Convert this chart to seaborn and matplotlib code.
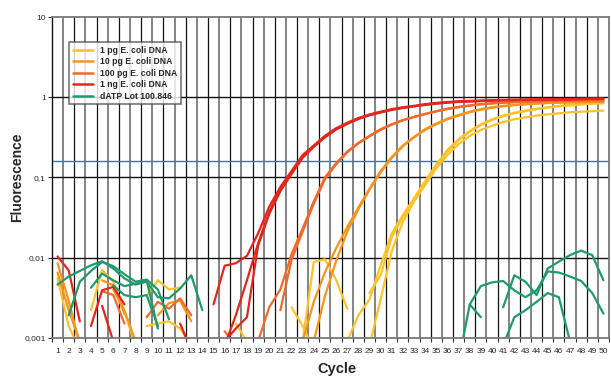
import numpy as np
import pandas as pd
import seaborn as sns
import matplotlib
matplotlib.use('Agg')
import matplotlib.pyplot as plt
from matplotlib.lines import Line2D
from matplotlib.ticker import FixedLocator, FixedFormatter, NullLocator

sns.set_style('white')
plt.rcParams['font.family'] = ['Liberation Sans', 'DejaVu Sans']

N = np.nan
cycles = list(range(1, 51))

# 1 ng E. coli DNA (rot)
red_1 = [0.0103, 0.0069, 0.0016, N, N, N, N, N, N, N,
         N, N, N, N, 0.0026, 0.0079, 0.0085, 0.0105, 0.020, 0.043,
         0.076, 0.12, 0.19, 0.25, 0.33, 0.41, 0.48, 0.55, 0.61, 0.66,
         0.71, 0.75, 0.78, 0.82, 0.85, 0.87, 0.89, 0.90, 0.91, 0.92,
         0.925, 0.93, 0.935, 0.94, 0.945, 0.95, 0.95, 0.955, 0.96, 0.96]
red_2 = [N, N, N, 0.0014, 0.0039, 0.0043, 0.0026, N, N, N,
         N, N, N, N, N, 0.0008, 0.0019, 0.0052, 0.015, 0.037,
         0.070, 0.115, 0.18, 0.245, 0.32, 0.40, 0.47, 0.54, 0.60, 0.65,
         0.70, 0.74, 0.77, 0.81, 0.84, 0.86, 0.88, 0.89, 0.90, 0.91,
         0.92, 0.925, 0.93, 0.935, 0.94, 0.945, 0.945, 0.95, 0.955, 0.955]
red_3 = [N, N, N, N, 0.0025, 0.0009, N, N, N, N,
         N, 0.0015, 0.0007, N, N, 0.0009, 0.0013, 0.0018, 0.014, 0.035,
         0.067, 0.11, 0.175, 0.24, 0.315, 0.395, 0.465, 0.535, 0.595, 0.645,
         0.695, 0.735, 0.77, 0.80, 0.83, 0.855, 0.875, 0.885, 0.895, 0.905,
         0.915, 0.92, 0.925, 0.93, 0.935, 0.94, 0.94, 0.945, 0.95, 0.95]

# 100 pg
ored_1 = [N, N, N, N, N, N, N, N, 0.0018, 0.0028,
          0.0023, 0.0031, 0.0019, N, N, N, N, N, 0.0009, 0.0024,
          0.0040, 0.011, 0.023, 0.050, 0.10, 0.15, 0.21, 0.27, 0.33, 0.40,
          0.46, 0.52, 0.57, 0.62, 0.67, 0.72, 0.76, 0.79, 0.82, 0.84,
          0.86, 0.87, 0.88, 0.89, 0.90, 0.905, 0.91, 0.915, 0.92, 0.92]
ored_2 = [N, N, N, N, 0.0038, 0.0034, 0.0015, N, N, N,
          N, N, N, N, N, 0.0012, 0.0008, N, N, N,
          0.0022, 0.0093, 0.021, 0.047, 0.095, 0.145, 0.205, 0.265, 0.325, 0.39,
          0.455, 0.515, 0.565, 0.615, 0.665, 0.71, 0.75, 0.785, 0.815, 0.835,
          0.855, 0.865, 0.875, 0.885, 0.895, 0.90, 0.905, 0.91, 0.915, 0.915]

# 10 pg
orng_1 = [0.0085, 0.0029, 0.0008, N, 0.0052, 0.0045, 0.0020, N, N, 0.0019,
          0.0027, 0.0029, 0.0016, N, N, N, N, N, N, N,
          N, N, 0.0009, 0.0028, 0.0065, 0.013, 0.024, 0.042, 0.072, 0.12,
          0.18, 0.25, 0.32, 0.40, 0.47, 0.54, 0.60, 0.66, 0.71, 0.75,
          0.78, 0.80, 0.82, 0.84, 0.85, 0.86, 0.865, 0.87, 0.875, 0.88]
orng_2 = [0.0065, 0.0022, 0.0009, N, N, 0.0040, 0.0022, 0.0009, N, N,
          N, N, N, N, N, N, N, N, N, N,
          N, N, N, 0.0009, 0.0033, 0.0090, 0.021, 0.040, 0.070, 0.115,
          0.175, 0.245, 0.315, 0.39, 0.46, 0.53, 0.59, 0.65, 0.70, 0.74,
          0.77, 0.795, 0.815, 0.835, 0.845, 0.855, 0.86, 0.865, 0.87, 0.875]

# 1 pg
yel_1 = [0.0055, 0.0014, 0.0007, N, N, N, N, N, 0.0014, 0.0015,
         0.0016, 0.0013, 0.0008, N, N, N, N, N, N, N,
         N, 0.0024, 0.0014, 0.0007, N, N, N, N, 0.0036, 0.0060,
         0.018, 0.032, 0.052, 0.085, 0.14, 0.21, 0.29, 0.37, 0.45, 0.52,
         0.58, 0.63, 0.67, 0.71, 0.74, 0.77, 0.79, 0.81, 0.83, 0.84]
yel_2 = [N, N, N, 0.0022, 0.0070, 0.0050, 0.0021, 0.0008, N, N,
         N, N, N, N, N, N, 0.0015, 0.0009, N, N,
         N, N, N, N, N, N, 0.0009, 0.0019, 0.0030, 0.0080,
         0.020, 0.034, 0.055, 0.09, 0.145, 0.22, 0.30, 0.38, 0.46, 0.53,
         0.59, 0.64, 0.68, 0.72, 0.75, 0.78, 0.80, 0.82, 0.84, 0.85]
yel_3 = [N, N, N, N, N, N, N, N, 0.0033, 0.0052,
         0.0040, 0.0042, N, N, N, N, N, N, N, N,
         N, N, 0.0009, 0.0088, 0.0095, 0.0053, 0.0023, N, 0.0008, 0.0030,
         0.012, 0.028, 0.050, 0.080, 0.13, 0.19, 0.26, 0.33, 0.39, 0.44,
         0.49, 0.53, 0.56, 0.59, 0.61, 0.63, 0.65, 0.66, 0.67, 0.68]

# dATP Lot 100.846 (Negativkontrolle)
grn_1 = [0.0046, 0.0058, 0.0068, 0.0080, 0.0090, 0.0073, 0.0055, 0.0046, 0.0050, 0.0032,
         0.0031, 0.0041, 0.0060, 0.0022, N, N, N, N, N, N,
         N, N, N, N, N, N, N, N, N, N,
         N, N, N, N, N, N, N, 0.0026, 0.0044, 0.0049,
         0.0051, 0.0039, 0.0032, 0.0039, 0.0067, 0.0065, 0.0058, 0.0051, 0.0036, 0.0020]
grn_2 = [N, 0.0019, 0.0050, 0.0068, 0.0088, 0.0078, 0.0062, 0.0050, 0.0053, 0.0040,
         0.0017, N, N, N, N, N, N, N, N, N,
         N, N, N, N, N, N, N, N, N, N,
         N, N, N, N, N, N, N, N, N, N,
         0.0024, 0.0060, 0.0050, 0.0034, 0.0073, 0.0089, 0.0107, 0.0122, 0.0107, 0.0052]
grn_3 = [N, N, N, 0.0042, 0.0063, 0.0052, 0.0044, 0.0047, 0.0052, 0.0013,
         N, N, N, N, N, N, N, N, N, N,
         N, N, N, N, N, N, N, N, N, N,
         N, N, N, N, N, N, N, N, N, N,
         0.0008, 0.0018, 0.0022, 0.0028, 0.0036, 0.0032, 0.0009, N, N, N]
grn_4 = [N, N, N, N, N, 0.0045, 0.0034, 0.0032, 0.0034, 0.0014,
         N, N, N, N, N, N, N, N, N, N,
         N, N, N, N, N, N, N, N, N, N,
         N, N, N, N, N, N, 0.0005, 0.0026, 0.0018, N,
         N, N, N, N, N, N, N, N, N, N]

groups = ['1 pg E. coli DNA', '10 pg E. coli DNA', '100 pg E. coli DNA',
          '1 ng E. coli DNA', 'dATP Lot 100.846']
colors = ['#fec32a', '#f7941d', '#f26a2a', '#e1261c', '#1f9a6e']
reps = [[yel_1, yel_2, yel_3], [orng_1, orng_2], [ored_1, ored_2],
        [red_1, red_2, red_3], [grn_1, grn_2, grn_3, grn_4]]
threshold = 0.161
ytick_vals = [0.001, 0.01, 0.1, 1, 10]
ytick_labels = ['0,001', '0,01', '0,1', '1', '10']

# lange Tabelle, Luecken (NaN) trennen die Linienstuecke
rows = []
for g, rr in zip(groups, reps):
    for r, vals in enumerate(rr):
        seg, prev = 0, False
        for c, v in zip(cycles, vals):
            if np.isnan(v):
                if prev:
                    seg += 1
                prev = False
                continue
            rows.append({'cycle': c, 'value': v, 'group': g, 'unit': f'{g}-{r}-{seg}'})
            prev = True
df = pd.DataFrame(rows)

fig = plt.figure(figsize=(6.11, 3.79), dpi=100)
ax = fig.add_axes([0.0851, 0.109, 0.9116, 0.846])

# Gitter
for k in range(1, 50):
    if k % 2:
        ax.axvline(k + 0.5, color='#7a7a7a', lw=1.3, zorder=0.5)
    else:
        ax.axvline(k + 0.5, color='#111111', lw=0.9, zorder=0.5)
for v in ytick_vals[1:-1]:
    ax.axhline(v, color='#111111', lw=1.0, zorder=0.6)
ax.axhline(threshold, color='#2f78c2', lw=1.0, zorder=0.7)

sns.lineplot(data=df, x='cycle', y='value', hue='group', hue_order=groups,
             palette=colors, units='unit', estimator=None, linewidth=1.6,
             legend=False, ax=ax)

ax.set_yscale('log')
ax.set_ylim(0.001, 10)
ax.set_xlim(0.5, 50.5)
ax.yaxis.set_major_locator(FixedLocator(ytick_vals))
ax.yaxis.set_major_formatter(FixedFormatter(ytick_labels))
ax.yaxis.set_minor_locator(NullLocator())
ax.set_xticks(cycles)
ax.set_xticklabels([str(c) for c in cycles])
ax.set_xticks([c + 0.5 for c in range(0, 51)], minor=True)
ax.tick_params(axis='x', which='major', length=0, pad=7.5, labelsize=6)
ax.tick_params(axis='x', which='minor', length=3, width=0.8, color='#333333', bottom=True)
ax.tick_params(axis='y', which='major', length=3, width=0.8, pad=1.5, labelsize=6,
               left=True, color='#333333')

for s in ['top', 'right', 'bottom']:
    ax.spines[s].set_color('#777777')
    ax.spines[s].set_linewidth(1.3)
ax.spines['left'].set_color('#111111')
ax.spines['left'].set_linewidth(1.0)

bold = {'family': ['Liberation Sans', 'DejaVu Sans'], 'weight': 'bold'}
ax.set_ylabel('Fluorescence', fontsize=10, **bold)
ax.set_xlabel('Cycle', fontsize=10.5, **bold)
ax.yaxis.set_label_coords(-0.05, 0.5)
ax.xaxis.set_label_coords(0.512, -0.075)

handles = [Line2D([], [], color=c, lw=1.8) for c in colors]
leg = ax.legend(handles, groups, loc='upper left', bbox_to_anchor=(0.0305, 0.922),
                borderaxespad=0, frameon=True, fancybox=False, handlelength=2.3,
                handletextpad=0.8, labelspacing=0.28, borderpad=0.45,
                prop={'family': ['Liberation Sans', 'DejaVu Sans'], 'weight': 'bold', 'size': 6.2})
leg.get_frame().set_edgecolor('#444444')
leg.get_frame().set_linewidth(1.1)
leg.set_zorder(5)

fig.savefig('out.png', dpi=100)
